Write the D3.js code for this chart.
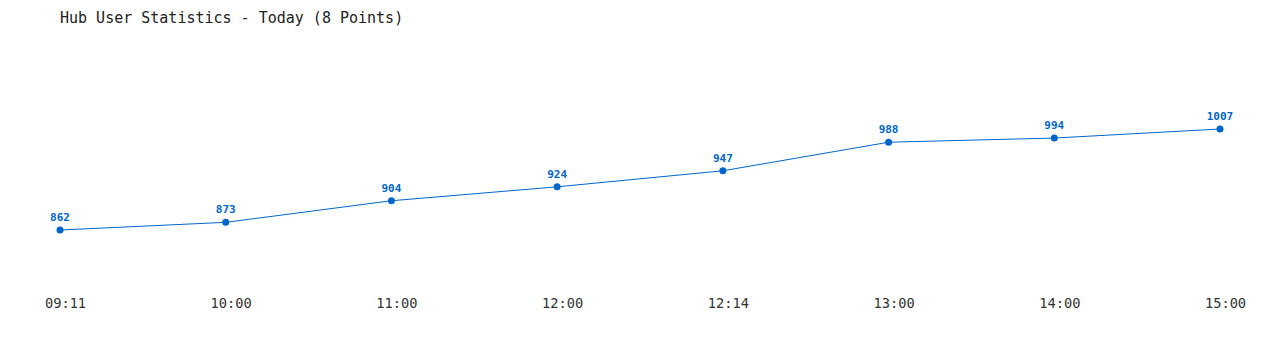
<!DOCTYPE html>
<html><head><meta charset="utf-8">
<script src="https://cdn.jsdelivr.net/npm/d3@7"></script>
<style>body{margin:0;background:#fff}svg{display:block}</style>
</head><body>
<script>
const categories = ["09:11","10:00","11:00","12:00","12:14","13:00","14:00","15:00"];
const users = [862,873,904,924,947,988,994,1007];
const title = "Hub User Statistics - Today (8 Points)";

const W=1280,H=350;
const svg=d3.select("body").append("svg").attr("width",W).attr("height",H);
const color="#0066cc";
const font="'DejaVu Sans Mono','Liberation Mono',monospace";

svg.append("text").attr("x",60).attr("y",23).attr("font-family",font)
  .attr("font-size",15).attr("fill","#222").text(title);

const x=d3.scalePoint().domain(categories).range([60,1220]);
const y=d3.scaleLinear().domain([862,1007]).range([230,129]);

const xAxis=d3.axisBottom(x).tickSize(0).tickPadding(0);
const gx=svg.append("g").attr("transform","translate(5,298)").call(xAxis);
gx.select(".domain").remove();
gx.selectAll("text").attr("font-family",font).attr("font-size",13.7).attr("fill","#333").attr("dy","0.71em");

svg.append("path").datum(users)
  .attr("d",d3.line().x((d,i)=>x(categories[i])).y(d=>y(d)))
  .attr("fill","none").attr("stroke",color).attr("stroke-width",1);

svg.selectAll("circle.pt").data(users).join("circle").attr("class","pt")
  .attr("cx",(d,i)=>x(categories[i])).attr("cy",d=>y(d)).attr("r",3.5).attr("fill",color);

svg.selectAll("text.val").data(users).join("text").attr("class","val")
  .attr("x",(d,i)=>x(categories[i])).attr("y",d=>y(d)-9)
  .attr("text-anchor","middle").attr("font-family",font).attr("font-size",11)
  .attr("font-weight","bold").attr("fill",color).text(d=>d);
</script>
</body></html>
